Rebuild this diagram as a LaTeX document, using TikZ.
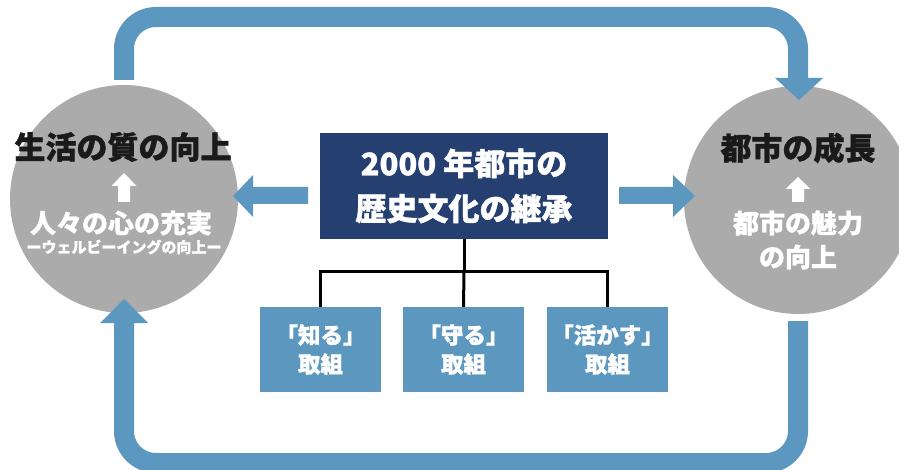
\documentclass[tikz,border=0pt]{standalone}
\usepackage{fontspec}
\setmainfont{Noto Sans CJK JP}[BoldFeatures={FakeBold=1.2}]
\definecolor{myblue}{RGB}{91,151,190}
\definecolor{navy}{RGB}{37,64,112}
\definecolor{mygrey}{RGB}{171,171,171}
\definecolor{ink}{RGB}{26,26,26}
\begin{document}
\begin{tikzpicture}[x=1pt,y=-1pt,
  loopline/.style={draw=myblue, line width=20pt, rounded corners=32pt},
  bluefill/.style={fill=myblue, draw=none},
  circ/.style={circle, fill=mygrey, draw=none, minimum size=228pt, inner sep=0pt},
  corebox/.style={fill=navy, draw=none, minimum width=288pt, minimum height=106pt, text=white,
    align=center, font=\bfseries\fontsize{31}{45}\selectfont, inner sep=0pt},
  subbox/.style={fill=myblue, draw=none, minimum width=121pt, minimum height=85pt, text=white,
    align=center, font=\bfseries\fontsize{22.5}{29}\selectfont, inner sep=0pt},
  title/.style={text=ink, font=\bfseries\fontsize{31}{36}\selectfont, inner sep=0pt},
  sub/.style={text=white, font=\bfseries\fontsize{26}{30}\selectfont, inner sep=0pt},
  small/.style={text=white, font=\bfseries\fontsize{15}{18}\selectfont, inner sep=0pt},
  tree/.style={draw=black, line width=3pt},
  whitearrow/.style={fill=white, draw=none}
]
\useasboundingbox (0,0) rectangle (899,470);

% circles
\node[circ] (lc) at (124,199) {};
\node[circ] (rc) at (798,200) {};

% loop connectors
\coordinate (ts) at (124,80);
\coordinate (te) at (798,78);
\draw[loopline] (ts) |- (460,17) -| (te);
\fill[bluefill] (775,78) -- (823,78) -- (799,100) -- cycle;

\coordinate (bs) at (798,321);
\coordinate (be) at (124,323);
\draw[loopline] (bs) |- (460,463) -| (be);
\fill[bluefill] (100,323) -- (148,323) -- (124,299) -- cycle;

% core box
\node[corebox] (core) at (464,186) {2000 年都市の\\歴史文化の継承};

% side arrows
\fill[bluefill] (308,187) -- (253,187) -- (253,175) -- (233,196) -- (253,217) -- (253,204) -- (308,204) -- cycle;
\fill[bluefill] (619,187) -- (673,187) -- (673,175) -- (695,196) -- (673,217) -- (673,204) -- (619,204) -- cycle;

% sub boxes
\node[subbox] (b1) at (320.5,349.5) {「知る」\\取組};
\node[subbox] (b2) at (463.5,349.5) {「守る」\\取組};
\node[subbox] (b3) at (607.5,349.5) {「活かす」\\取組};

\coordinate (tj) at (464,272);
\draw[tree] (core.south) -- (tj);
\draw[tree] (b1.north) |- (tj) -| (b3.north);
\draw[tree] (tj) -- (b2.north);

% left circle texts
\node[title] (lt) at (123,147) {生活の質の向上};
\fill[whitearrow] (124,173) -- (136.5,186) -- (130,186) -- (130,202) -- (118,202) -- (118,186) -- (111.5,186) -- cycle;
\node[sub] (l2) at (121,223) {人々の心の充実};
\node[small] (l3) at (124,247) {ーウェルビーイングの向上ー};

% right circle texts
\node[title] (rt) at (798,148) {都市の成長};
\fill[whitearrow] (798,177) -- (810.5,189) -- (804,189) -- (804,202) -- (792,202) -- (792,189) -- (785.5,189) -- cycle;
\node[sub] (r2) at (798,223) {都市の魅力};
\node[sub] (r3) at (798,257) {の向上};
\end{tikzpicture}
\end{document}
